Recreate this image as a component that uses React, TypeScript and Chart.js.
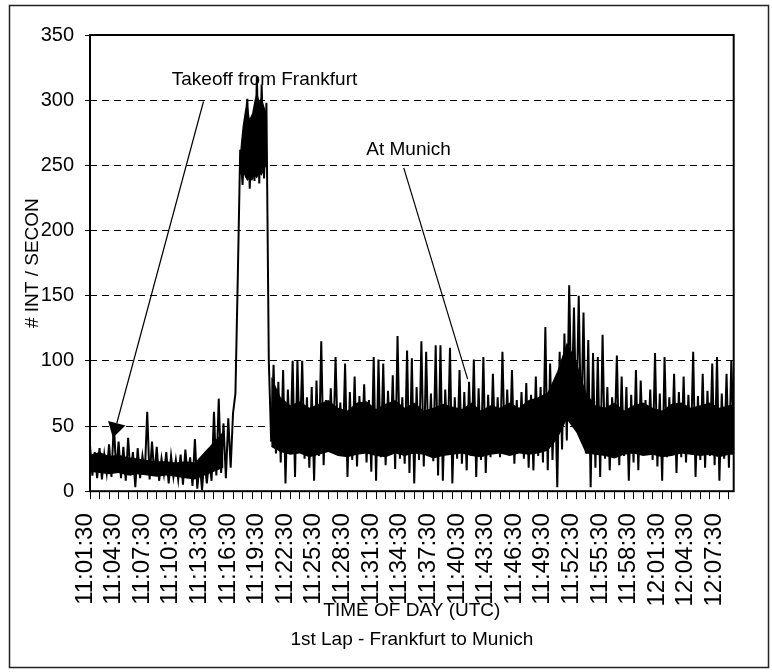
import React, { useEffect, useRef } from 'react';
import { Chart, registerables } from 'chart.js';

Chart.register(...registerables);

const FONT = '"Liberation Sans", Arial, Helvetica, sans-serif';

// one sample every 15 seconds, starting at 11:01:30
const SAMPLE_MINUTES = 0.25;

const timeLabels = [
  '11:01:30', '11:04:30', '11:07:30', '11:10:30', '11:13:30', '11:16:30',
  '11:19:30', '11:22:30', '11:25:30', '11:28:30', '11:31:30', '11:34:30',
  '11:37:30', '11:40:30', '11:43:30', '11:46:30', '11:49:30', '11:52:30',
  '11:55:30', '11:58:30', '12:01:30', '12:04:30', '12:07:30',
];

const yTicks = [0, 50, 100, 150, 200, 250, 300, 350];

// # interrogations / second, 15 s samples
const intRate = [
  35, 12, 30, 10, 33, 9, 28, 14, 36, 11,
  52, 15, 38, 10, 34, 8, 41, 12, 30, 3,
  33, 10, 27, 14, 61, 9, 38, 12, 34, 8,
  25, 13, 30, 6, 27, 11, 24, 9, 28, 5,
  32, 10, 26, 4, 40, 2, 22, 1, 26, 6,
  24, 8, 61, 12, 71, 14, 52, 10, 56, 18,
  60, 75, 165,
  262, 235, 280, 301, 232, 286, 238, 318, 236, 312, 240, 298,
  100, 38, 97, 29, 84, 22, 93, 6, 78, 30,
  100, 11, 100, 34, 100, 25, 72, 18, 80, 8,
  85, 27, 115, 20, 70, 33, 79, 31, 103, 35,
  68, 28, 98, 11, 76, 24, 88, 19, 73, 30,
  82, 22, 70, 15, 103, 8, 101, 26, 98, 20,
  77, 31, 89, 17, 119, 25, 72, 21, 108, 14,
  102, 6, 80, 24, 115, 19, 107, 28, 75, 23,
  112, 12, 112, 8, 78, 30, 110, 6, 72, 25,
  93, 21, 76, 16, 84, 27, 101, 11, 79, 24,
  103, 14, 74, 26, 90, 29, 72, 26, 107, 30,
  78, 28, 93, 21, 70, 32, 76, 25, 83, 18,
  74, 16, 88, 27, 80, 22, 126, 16, 98, 24,
  85, 3, 107, 32, 121, 39, 158, 60, 141, 52,
  150, 45, 137, 29, 116, 3, 106, 18, 103, 11,
  120, 25, 80, 16, 72, 37, 104, 20, 88, 27,
  80, 8, 74, 22, 93, 16, 85, 28, 70, 30,
  78, 24, 106, 19, 75, 8, 103, 26, 72, 30,
  90, 14, 76, 26, 88, 22, 74, 29, 107, 11,
  73, 24, 90, 18, 77, 27, 98, 20, 103, 8,
  75, 25, 90, 18, 100, 40,
];

// dense (solid) part of the trace, one value per minute
const earlyCoreStartMinute = 0;
const earlyCoreLow = [15, 14, 13, 14, 12, 13, 12, 11, 12, 11, 10, 9, 12, 15, 18];
const earlyCoreHigh = [28, 30, 27, 28, 26, 25, 24, 23, 23, 22, 23, 22, 30, 38, 46];

// dense part of the high plateau, on the 15 s sample grid
const plateauCoreStartSample = 63;
const plateauCoreLow = [255, 246, 241, 238, 240, 238, 242, 240, 244, 242, 246, 250];
const plateauCoreHigh = [262, 280, 292, 298, 286, 290, 300, 306, 300, 302, 296, 290];

const lateCoreStartMinute = 19;
const lateCoreLow = [
  34, 30, 28, 29, 26, 28, 30, 27, 26, 28,
  29, 27, 26, 29, 27, 29, 28, 25, 27, 28,
  29, 27, 26, 28, 29, 27, 29, 28, 29, 31,
  40, 55, 45, 29, 28, 27, 25, 28, 29, 27,
  28, 26, 27, 29, 28, 27, 28, 26, 28, 28,
];
const lateCoreHigh = [
  88, 72, 66, 69, 64, 67, 70, 64, 62, 68,
  69, 63, 67, 70, 64, 68, 62, 64, 67, 65,
  63, 68, 62, 66, 64, 68, 64, 70, 72, 76,
  92, 114, 100, 76, 66, 64, 68, 62, 66, 68,
  64, 62, 67, 68, 64, 66, 68, 64, 66, 67,
];

// annotations, in [minutes since 11:01:30, value]
const takeoffText = 'Takeoff from Frankfurt';
const takeoffLabelAt = [18.3, 316];
const takeoffArrowFrom = [11.9, 299];
const takeoffArrowTo = [2.4, 41];
const munichText = 'At Munich';
const munichLabelAt = [33.4, 262];
const munichLineFrom = [32.9, 248];
const munichLineTo = [39.6, 86];

const X_MAX = 67.5;

const framePlugin = {
  id: 'frameAndNotes',
  afterDraw(chart: any) {
    const { ctx, chartArea: a, scales } = chart;
    const xs = scales.x;
    const ys = scales.y;
    const px = (p: number[]) => [xs.getPixelForValue(p[0]), ys.getPixelForValue(p[1])];
    ctx.save();
    ctx.strokeStyle = '#000';
    ctx.fillStyle = '#000';
    ctx.lineWidth = 2;
    ctx.strokeRect(a.left, a.top, a.right - a.left, a.bottom - a.top);
    ctx.lineWidth = 1.5;
    ctx.strokeStyle = '#222';
    ctx.strokeRect(9.5, 5.5, 759, 662);
    ctx.strokeStyle = '#000';

    ctx.font = '19px ' + FONT;
    ctx.textAlign = 'center';
    ctx.textBaseline = 'middle';
    const t1 = px(takeoffLabelAt);
    ctx.fillText(takeoffText, t1[0], t1[1]);
    const t2 = px(munichLabelAt);
    ctx.fillText(munichText, t2[0], t2[1]);

    const a0 = px(takeoffArrowFrom);
    const a1 = px(takeoffArrowTo);
    const dx = a1[0] - a0[0];
    const dy = a1[1] - a0[1];
    const len = Math.hypot(dx, dy);
    const ux = dx / len;
    const uy = dy / len;
    const headLen = 15;
    const headHalf = 9;
    const bx = a1[0] - ux * headLen;
    const by = a1[1] - uy * headLen;
    ctx.lineWidth = 1.2;
    ctx.beginPath();
    ctx.moveTo(a0[0], a0[1]);
    ctx.lineTo(bx, by);
    ctx.stroke();
    ctx.beginPath();
    ctx.moveTo(a1[0], a1[1]);
    ctx.lineTo(bx - uy * headHalf, by + ux * headHalf);
    ctx.lineTo(bx + uy * headHalf, by - ux * headHalf);
    ctx.closePath();
    ctx.fill();

    const m0 = px(munichLineFrom);
    const m1 = px(munichLineTo);
    ctx.beginPath();
    ctx.moveTo(m0[0], m0[1]);
    ctx.lineTo(m1[0], m1[1]);
    ctx.stroke();
    ctx.restore();
  },
};

export default function App() {
  const ref = useRef<HTMLCanvasElement | null>(null);

  useEffect(() => {
    if (!ref.current) return;
    const series = intRate.map((v, i) => ({ x: i * SAMPLE_MINUTES, y: v }));
    const band = (start: number, step: number, arr: number[]) =>
      arr.map((v, k) => ({ x: start + k * step, y: v }));
    const minuteTicks = Array.from({ length: Math.floor(X_MAX) + 1 }, (_, k) => k);
    const plateauStart = plateauCoreStartSample * SAMPLE_MINUTES;

    const bandStyle = {
      borderWidth: 0,
      pointRadius: 0,
      borderColor: '#000',
      backgroundColor: '#000',
    };

    const chart = new Chart(ref.current, {
      type: 'line',
      data: {
        datasets: [
          { ...bandStyle, data: band(earlyCoreStartMinute, 1, earlyCoreLow), fill: false },
          { ...bandStyle, data: band(earlyCoreStartMinute, 1, earlyCoreHigh), fill: '-1' },
          { ...bandStyle, data: band(plateauStart, SAMPLE_MINUTES, plateauCoreLow), fill: false },
          { ...bandStyle, data: band(plateauStart, SAMPLE_MINUTES, plateauCoreHigh), fill: '-1' },
          { ...bandStyle, data: band(lateCoreStartMinute, 1, lateCoreLow), fill: false },
          { ...bandStyle, data: band(lateCoreStartMinute, 1, lateCoreHigh), fill: '-1' },
          {
            data: series,
            borderColor: '#000',
            borderWidth: 2,
            pointRadius: 0,
            tension: 0,
            fill: false,
          },
        ],
      },
      options: {
        animation: false,
        responsive: false,
        devicePixelRatio: 1,
        layout: { padding: { left: 10, right: 37, top: 35, bottom: 15 } },
        plugins: {
          legend: { display: false },
          tooltip: { enabled: false },
          title: {
            display: true,
            position: 'bottom',
            fullSize: false,
            text: '1st Lap - Frankfurt to Munich',
            color: '#000',
            font: { family: FONT, size: 19, weight: 'normal' },
            padding: { top: 6, bottom: 6 },
          },
        },
        scales: {
          x: {
            type: 'linear',
            min: 0,
            max: X_MAX,
            afterBuildTicks: (s: any) => {
              s.ticks = minuteTicks.map((v) => ({ value: v }));
            },
            afterFit: (s: any) => {
              s.height = 131;
            },
            ticks: {
              autoSkip: false,
              minRotation: 90,
              maxRotation: 90,
              padding: 14,
              labelOffset: -5,
              color: '#000',
              font: { family: FONT, size: 24 },
              callback: (v: any) => (Number(v) % 3 === 0 ? timeLabels[Number(v) / 3] : ''),
            },
            grid: {
              display: true,
              drawOnChartArea: false,
              drawTicks: true,
              tickLength: 8,
              color: '#000',
              tickColor: '#000',
              lineWidth: 1,
            },
            border: { display: false },
            title: {
              display: true,
              text: 'TIME OF DAY (UTC)',
              color: '#000',
              font: { family: FONT, size: 19 },
              padding: { top: 0, bottom: 0 },
            },
          },
          y: {
            min: 0,
            max: 350,
            afterBuildTicks: (s: any) => {
              s.ticks = yTicks.map((v) => ({ value: v }));
            },
            afterFit: (s: any) => {
              s.width = 80;
            },
            ticks: {
              padding: 11,
              color: '#000',
              font: { family: FONT, size: 20 },
            },
            grid: {
              color: '#000',
              lineWidth: 1,
              tickLength: 5,
              tickColor: '#000',
              tickBorderDash: [],
              borderDash: [7, 5],
            } as any,
            border: { display: false, dash: [7, 5] },
            title: {
              display: true,
              text: '# INT / SECON',
              color: '#000',
              font: { family: FONT, size: 19 },
              padding: { top: 11.6, bottom: 0 },
            },
          },
        },
      } as any,
      plugins: [framePlugin],
    });
    return () => chart.destroy();
  }, []);

  return (
    <div style={{ position: 'absolute', left: 0, top: 0, width: 772, height: 672, background: '#fff' }}>
      <canvas ref={ref} width={772} height={672} style={{ display: 'block' }} />
    </div>
  );
}
